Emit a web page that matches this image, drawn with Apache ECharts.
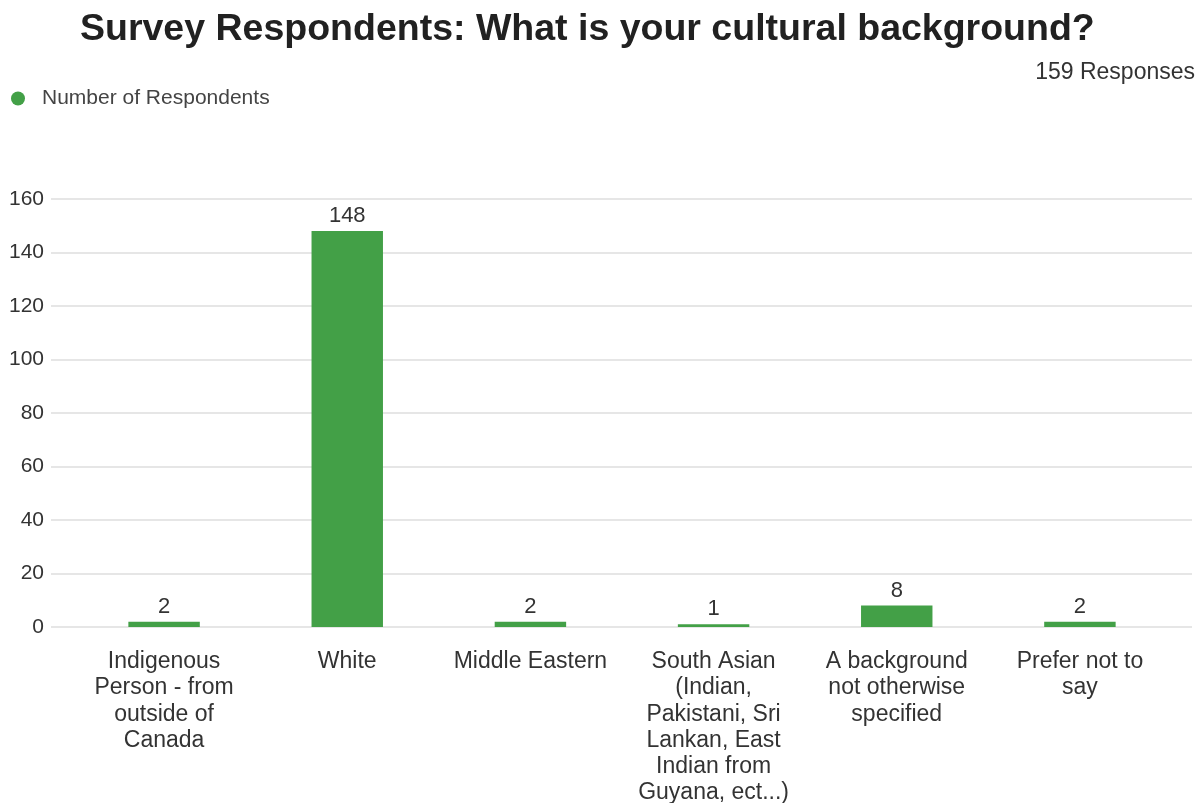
<!DOCTYPE html>
<html>
<head>
<meta charset="utf-8">
<title>Survey Respondents: What is your cultural background?</title>
<script src="https://cdn.jsdelivr.net/npm/echarts@6/dist/echarts.min.js"></script>
<style>
  html, body { margin: 0; padding: 0; background: #fff; }
  #chart { width: 1198px; height: 803px; }
</style>
</head>
<body>
<div id="chart"></div>
<script>
// Answer categories (line breaks follow the wrapped axis labels)
const categories = [
  'Indigenous\nPerson - from\noutside of\nCanada',
  'White',
  'Middle Eastern',
  'South Asian\n(Indian,\nPakistani, Sri\nLankan, East\nIndian from\nGuyana, ect...)',
  'A background\nnot otherwise\nspecified',
  'Prefer not to\nsay'
];
// Number of respondents per category
const respondents = [2, 148, 2, 1, 8, 2];
// Value axis ticks
const yTicks = [0, 20, 40, 60, 80, 100, 120, 140, 160];
const totalResponses = 159;

const FONT = '"Liberation Sans", Arial, Helvetica, sans-serif';
const GREEN = '#43a047';
const TEXT = '#333333';
const yMin = yTicks[0];
const yMax = yTicks[yTicks.length - 1];
const yStep = yTicks[1] - yTicks[0];

const chart = echarts.init(document.getElementById('chart'), null, { renderer: 'canvas' });

chart.setOption({
  animation: false,
  backgroundColor: '#ffffff',
  textStyle: { fontFamily: FONT },
  title: [
    {
      text: 'Survey Respondents: What is your cultural background?',
      left: 80,
      top: 11,
      padding: 0,
      textStyle: { fontFamily: FONT, fontSize: 37.5, fontWeight: 'bold', color: '#212121' }
    },
    {
      text: totalResponses + ' Responses',
      right: 3,
      top: 61,
      padding: 0,
      textStyle: { fontFamily: FONT, fontSize: 23, fontWeight: 'normal', color: TEXT }
    }
  ],
  legend: {
    left: 11,
    top: 88,
    padding: 0,
    icon: 'circle',
    itemWidth: 38,
    itemHeight: 14,
    textStyle: { fontFamily: FONT, fontSize: 21, color: '#444444' },
    data: ['Number of Respondents']
  },
  grid: [
    // wide grid carrying the value axis and its gridlines
    { left: 51, right: 6, top: 199, bottom: 176, containLabel: false, outerBoundsMode: 'none' },
    // inner grid holding the category bands and bars
    { left: 72.5, right: 26.5, top: 199, bottom: 176, containLabel: false, outerBoundsMode: 'none' }
  ],
  xAxis: [
    {
      gridIndex: 0, type: 'category', data: categories,
      show: false
    },
    {
      gridIndex: 1, type: 'category', data: categories,
      axisLine: { show: false },
      axisTick: { show: false },
      axisLabel: {
        interval: 0,
        margin: 22,
        fontFamily: FONT,
        fontSize: 23,
        lineHeight: 26.1,
        color: TEXT,
        align: 'center'
      }
    }
  ],
  yAxis: [
    {
      gridIndex: 0, type: 'value', min: yMin, max: yMax, interval: yStep,
      axisLine: { show: false },
      axisTick: { show: false },
      axisLabel: { margin: 7, fontFamily: FONT, fontSize: 21, color: TEXT },
      splitLine: { lineStyle: { color: '#e6e6e6', width: 2 } }
    },
    {
      gridIndex: 1, type: 'value', min: yMin, max: yMax, interval: yStep,
      show: false,
      splitLine: { show: false }
    }
  ],
  series: [
    {
      name: 'Number of Respondents',
      type: 'bar',
      xAxisIndex: 1,
      yAxisIndex: 1,
      data: respondents,
      barWidth: '39%',
      itemStyle: { color: GREEN },
      label: {
        show: true,
        position: 'top',
        distance: 4,
        fontFamily: FONT,
        fontSize: 22,
        color: TEXT
      }
    }
  ]
});
</script>
</body>
</html>
